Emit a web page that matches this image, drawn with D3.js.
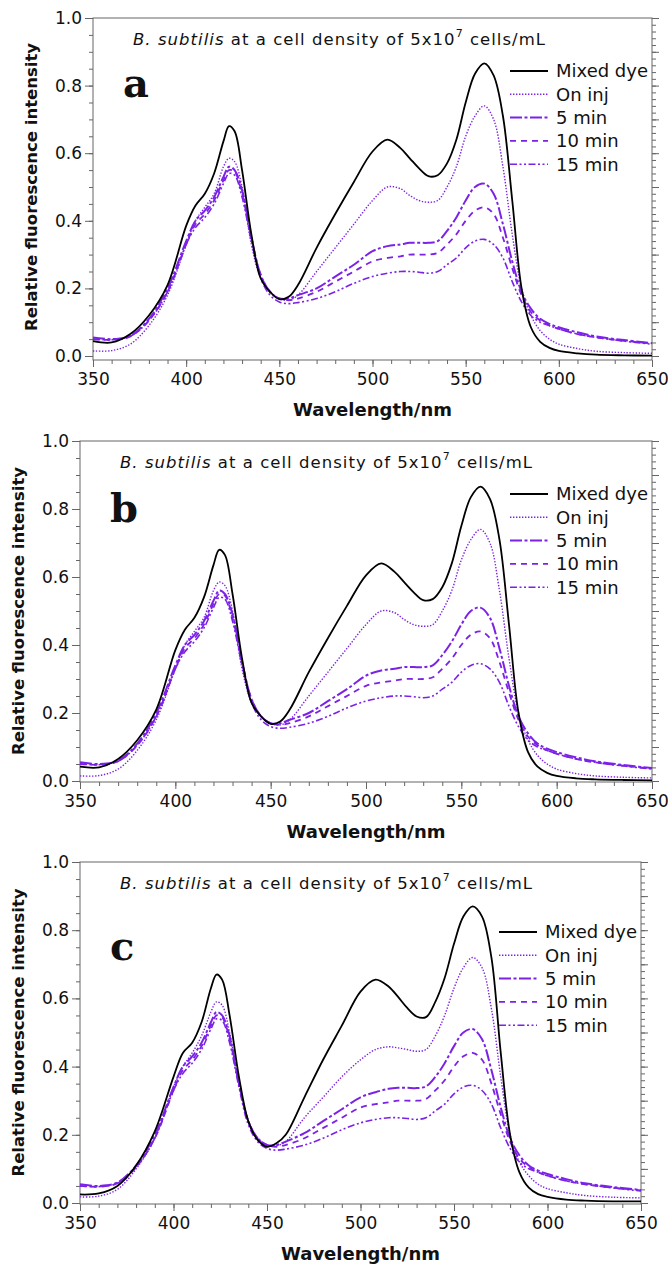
<!DOCTYPE html>
<html>
<head>
<meta charset="utf-8">
<script src="https://cdn.jsdelivr.net/npm/d3@7"></script>
<style>
  body { margin: 0; background: #fff; }
  text { font-family: "DejaVu Sans", Verdana, sans-serif; fill: #111; }
</style>
</head>
<body>
<svg></svg>
<script>
// wavelengths (nm) shared by all curves
let wavelengths = [350,360,370,380,390,400,405,410,415,420,423,426,430,435,440,445,450,455,460,470,480,490,500,508,515,520,525,530,535,540,545,550,555,560,565,570,575,580,585,590,595,600,610,620,635,650]

let seriesNames = ['Mixed dye','On inj','5 min','10 min','15 min']
let xTicks = [350,400,450,500,550,600,650]
let yTicks = [0.0,0.2,0.4,0.6,0.8,1.0]
let panelLetters = ['a','b','c']

// panel a
let aMixed = [0.044,0.040,0.065,0.12,0.21,0.385,0.445,0.48,0.54,0.635,0.68,0.665,0.55,0.36,0.23,0.19,0.168,0.175,0.21,0.32,0.42,0.515,0.605,0.64,0.615,0.585,0.555,0.532,0.535,0.57,0.64,0.75,0.835,0.866,0.83,0.71,0.46,0.20,0.085,0.042,0.024,0.015,0.008,0.004,0.002,0.001]
let aOnInj = [0.015,0.016,0.035,0.09,0.18,0.33,0.40,0.44,0.48,0.56,0.585,0.575,0.50,0.33,0.23,0.19,0.17,0.165,0.18,0.25,0.32,0.39,0.46,0.50,0.495,0.475,0.46,0.455,0.46,0.50,0.56,0.65,0.71,0.74,0.70,0.56,0.36,0.20,0.12,0.075,0.05,0.035,0.022,0.014,0.01,0.008]
let a5 = [0.055,0.05,0.06,0.11,0.20,0.34,0.40,0.43,0.47,0.53,0.56,0.55,0.49,0.35,0.24,0.19,0.17,0.17,0.18,0.20,0.235,0.27,0.31,0.325,0.33,0.335,0.335,0.335,0.34,0.37,0.41,0.46,0.50,0.51,0.48,0.39,0.28,0.19,0.14,0.11,0.095,0.085,0.07,0.058,0.047,0.038]
let a10 = [0.05,0.048,0.058,0.105,0.19,0.33,0.39,0.42,0.46,0.52,0.55,0.545,0.48,0.35,0.24,0.19,0.17,0.165,0.17,0.19,0.22,0.25,0.28,0.29,0.295,0.30,0.30,0.30,0.305,0.33,0.36,0.40,0.43,0.44,0.42,0.35,0.26,0.18,0.13,0.105,0.09,0.08,0.065,0.055,0.045,0.037]
let a15 = [0.05,0.048,0.058,0.105,0.19,0.33,0.38,0.41,0.45,0.51,0.54,0.535,0.47,0.34,0.23,0.18,0.16,0.155,0.158,0.17,0.19,0.215,0.235,0.245,0.25,0.25,0.248,0.245,0.25,0.27,0.29,0.32,0.34,0.345,0.33,0.29,0.22,0.16,0.12,0.10,0.09,0.08,0.065,0.055,0.044,0.035]

// panel b
let bMixed = [0.042,0.040,0.065,0.12,0.21,0.385,0.445,0.48,0.54,0.635,0.68,0.665,0.55,0.36,0.23,0.19,0.168,0.175,0.21,0.32,0.42,0.515,0.605,0.64,0.615,0.585,0.555,0.532,0.535,0.57,0.64,0.75,0.835,0.866,0.83,0.71,0.46,0.20,0.085,0.042,0.024,0.015,0.008,0.005,0.003,0.002]
let bOnInj = [0.015,0.016,0.035,0.09,0.18,0.33,0.40,0.44,0.48,0.56,0.585,0.575,0.50,0.33,0.23,0.19,0.17,0.165,0.18,0.25,0.32,0.39,0.46,0.50,0.495,0.475,0.46,0.455,0.46,0.50,0.56,0.65,0.71,0.74,0.70,0.56,0.36,0.20,0.12,0.075,0.05,0.035,0.022,0.015,0.011,0.009]
let b5 = [0.055,0.05,0.06,0.11,0.20,0.34,0.40,0.43,0.47,0.53,0.56,0.55,0.49,0.35,0.24,0.19,0.17,0.17,0.18,0.20,0.235,0.27,0.31,0.325,0.33,0.335,0.335,0.335,0.34,0.37,0.41,0.46,0.50,0.51,0.48,0.39,0.28,0.19,0.14,0.11,0.095,0.085,0.07,0.058,0.047,0.038]
let b10 = [0.05,0.048,0.058,0.105,0.19,0.33,0.39,0.42,0.46,0.52,0.55,0.545,0.48,0.35,0.24,0.19,0.17,0.165,0.17,0.19,0.22,0.25,0.28,0.29,0.295,0.30,0.30,0.30,0.305,0.33,0.36,0.40,0.43,0.44,0.42,0.35,0.26,0.18,0.13,0.105,0.09,0.08,0.065,0.055,0.045,0.037]
let b15 = [0.05,0.048,0.058,0.105,0.19,0.33,0.38,0.41,0.45,0.51,0.54,0.535,0.47,0.34,0.23,0.18,0.16,0.155,0.158,0.17,0.19,0.215,0.235,0.245,0.25,0.25,0.248,0.245,0.25,0.27,0.29,0.32,0.34,0.345,0.33,0.29,0.22,0.16,0.12,0.10,0.09,0.08,0.065,0.055,0.044,0.035]

// panel c
let cMixed = [0.025,0.028,0.05,0.11,0.21,0.37,0.44,0.47,0.53,0.63,0.67,0.655,0.55,0.37,0.24,0.185,0.165,0.175,0.20,0.31,0.42,0.52,0.62,0.655,0.635,0.605,0.572,0.547,0.545,0.59,0.66,0.76,0.84,0.87,0.84,0.72,0.44,0.20,0.09,0.045,0.026,0.018,0.01,0.007,0.005,0.005]
let cOnInj = [0.018,0.02,0.04,0.10,0.19,0.34,0.40,0.44,0.49,0.56,0.59,0.58,0.50,0.35,0.24,0.19,0.17,0.168,0.18,0.25,0.31,0.37,0.42,0.45,0.458,0.455,0.45,0.445,0.45,0.49,0.55,0.63,0.69,0.72,0.69,0.57,0.37,0.20,0.12,0.08,0.055,0.042,0.03,0.022,0.017,0.015]
let c5 = [0.055,0.05,0.06,0.11,0.20,0.34,0.40,0.43,0.47,0.53,0.56,0.55,0.49,0.35,0.24,0.19,0.17,0.17,0.18,0.205,0.24,0.275,0.31,0.325,0.335,0.338,0.338,0.337,0.342,0.37,0.41,0.46,0.50,0.51,0.48,0.39,0.28,0.19,0.14,0.11,0.095,0.085,0.07,0.058,0.047,0.038]
let c10 = [0.05,0.048,0.058,0.105,0.19,0.33,0.39,0.42,0.46,0.52,0.55,0.545,0.48,0.35,0.24,0.19,0.17,0.165,0.17,0.19,0.22,0.25,0.28,0.29,0.295,0.30,0.30,0.30,0.305,0.33,0.36,0.40,0.43,0.44,0.42,0.35,0.26,0.18,0.13,0.105,0.09,0.08,0.065,0.055,0.045,0.037]
let c15 = [0.05,0.048,0.058,0.105,0.19,0.33,0.38,0.41,0.45,0.51,0.54,0.535,0.47,0.34,0.23,0.18,0.16,0.155,0.158,0.17,0.19,0.215,0.235,0.245,0.25,0.25,0.248,0.245,0.25,0.27,0.29,0.32,0.34,0.345,0.33,0.29,0.22,0.16,0.12,0.10,0.09,0.08,0.065,0.055,0.044,0.035]

let panelSeries = [
    [aMixed,aOnInj,a5,a10,a15],
    [bMixed,bOnInj,b5,b10,b15],
    [cMixed,cOnInj,c5,c10,c15]
]

// layout of the three panels (pixels)
let layout = [
    {left:93, right:652, top:18,  zero:356,  axisY:360,  letterY:97,  legendY:71},
    {left:80, right:652, top:441, zero:781,  axisY:782,  letterY:522, legendY:494},
    {left:80, right:641, top:862, zero:1203, axisY:1204, letterY:960, legendY:932}
]

let purple = '#7b22e6'
let styles = [
    {color:'#000', width:1.8, dash:null},
    {color:purple, width:1.4, dash:'1.4,1.6'},
    {color:purple, width:2.0, dash:'12,2.5,3,2.5'},
    {color:purple, width:1.8, dash:'6,5'},
    {color:purple, width:1.6, dash:'7,2.5,2,2.5,2,2.5'}
]

let svg = d3.select('svg').attr('width',668).attr('height',1266)
svg.append('rect').attr('width',668).attr('height',1266).attr('fill','#fff')

let axisColor = '#666'

let drawPanel = (p, i) => {
    let series = panelSeries[i]
    let g = svg.append('g')

    let x = d3.scaleLinear().domain([350,650]).range([p.left,p.right])
    let y = d3.scaleLinear().domain([0,1]).range([p.zero,p.top])

    // frame
    g.append('rect')
        .attr('x',p.left).attr('y',p.top)
        .attr('width',p.right-p.left).attr('height',p.axisY-p.top)
        .attr('fill','none').attr('stroke',axisColor).attr('stroke-width',1)

    // left axis
    let left = g.append('g').attr('transform','translate('+p.left+',0)')
    left.call(d3.axisLeft(y).tickValues(d3.range(0,1.001,0.05)).tickSize(4).tickFormat(''))
    left.append('g').call(d3.axisLeft(y).tickValues(yTicks).tickSize(8).tickPadding(3).tickFormat(d3.format('.1f')))
    left.selectAll('.domain').remove()
    left.selectAll('text').style('font-size','17px').attr('fill','#111')

    // right axis
    let right = g.append('g').attr('transform','translate('+p.right+',0)')
    right.call(d3.axisRight(y).tickValues(d3.range(0,1.001,0.02)).tickSize(4).tickFormat(''))
    right.append('g').call(d3.axisRight(y).tickValues(d3.range(0,1.001,0.1)).tickSize(7).tickFormat(''))
    right.selectAll('.domain').remove()

    // bottom axis
    let bottom = g.append('g').attr('transform','translate(0,'+p.axisY+')')
    bottom.call(d3.axisBottom(x).tickValues(d3.range(350,651,10)).tickSize(4).tickFormat(''))
    bottom.append('g').call(d3.axisBottom(x).tickValues(xTicks).tickSize(7).tickPadding(6).tickFormat(d3.format('d')))
    bottom.selectAll('.domain').remove()
    bottom.selectAll('text').style('font-size','17px').attr('fill','#111')

    g.selectAll('.tick line').attr('stroke',axisColor)

    // curves
    let line = d3.line()
        .x((d)=>x(d[0]))
        .y((d)=>y(d[1]))
        .curve(d3.curveCatmullRom.alpha(0.5))

    // draw purple first, black on top of them
    let order = [4,3,2,1,0]
    order.forEach((k)=>{
        let pts = wavelengths.map((w,j)=>[w,series[k][j]])
        g.append('path')
            .datum(pts)
            .attr('d',line)
            .attr('fill','none')
            .attr('stroke',styles[k].color)
            .attr('stroke-width',styles[k].width)
            .attr('stroke-dasharray',styles[k].dash)
    })

    // title
    let title = g.append('text')
        .attr('x',p.left+40)
        .attr('y',p.top+27)
        .attr('textLength',412)
        .attr('lengthAdjust','spacing')
        .style('font-size','16.5px')
    title.append('tspan').style('font-style','italic').text('B. subtilis')
    title.append('tspan').text('  at a cell density of 5x10')
    title.append('tspan').attr('dy',-8).style('font-size','11px').text('7')
    title.append('tspan').attr('dy',8).text(' cells/mL')

    // panel letter
    g.append('text')
        .attr('x',p.left+30)
        .attr('y',p.letterY)
        .style('font-family','"DejaVu Serif", serif')
        .style('font-weight','bold')
        .style('font-size','40px')
        .text(panelLetters[i])

    // legend
    let lx0 = p.right-142
    seriesNames.forEach((name,k)=>{
        let ly = p.legendY + k*23.3
        g.append('line')
            .attr('x1',lx0).attr('x2',lx0+38)
            .attr('y1',ly).attr('y2',ly)
            .attr('stroke',styles[k].color)
            .attr('stroke-width',styles[k].width)
            .attr('stroke-dasharray',styles[k].dash)
        g.append('text')
            .attr('x',lx0+46)
            .attr('y',ly)
            .attr('dy','0.36em')
            .style('font-size','18px')
            .text(name)
    })

    // axis titles
    g.append('text')
        .attr('transform','translate('+(p.left-62)+','+((p.top+p.zero)/2)+') rotate(-90)')
        .attr('text-anchor','middle')
        .attr('dy','0.35em')
        .style('font-size','16.5px')
        .style('font-weight','bold')
        .text('Relative fluorescence intensity')

    g.append('text')
        .attr('x',(p.left+p.right)/2)
        .attr('y',p.axisY+50)
        .attr('text-anchor','middle')
        .attr('dy','0.35em')
        .style('font-size','18px')
        .style('font-weight','bold')
        .text('Wavelength/nm')
}

layout.forEach((p,i)=>drawPanel(p,i))
</script>
</body>
</html>
